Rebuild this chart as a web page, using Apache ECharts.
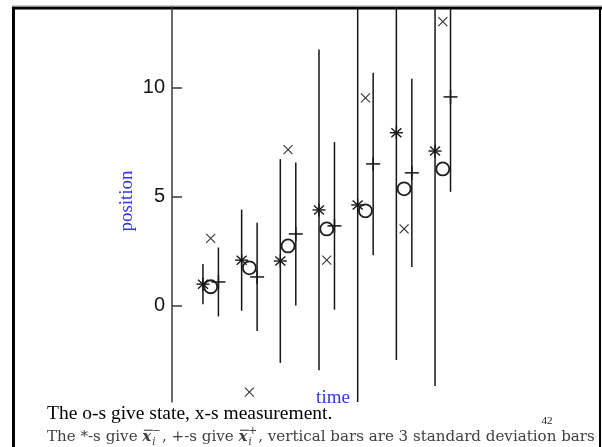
<!DOCTYPE html>
<html>
<head>
<meta charset="utf-8">
<script src="https://cdn.jsdelivr.net/npm/echarts@6/dist/echarts.min.js"></script>
<style>
  html, body { margin: 0; padding: 0; background: #ffffff; }
  #chart { width: 602px; height: 447px; }
</style>
</head>
<body>
<div id="chart"></div>
<script>
// Kalman filter run: seven time steps
const timeSteps = [1, 2, 3, 4, 5, 6, 7];
// predicted means (drawn as *) and their 3-sigma half widths
const predicted = [1.0, 2.1, 2.06, 4.4, 4.63, 7.94, 7.1];
const predicted3Sigma = [0.92, 2.32, 4.67, 7.35, 9.3, 10.42, 10.77];
// true state (o)
const trueState = [0.88, 1.75, 2.75, 3.53, 4.36, 5.37, 6.28];
// measurements (x)
const measured = [3.1, -3.95, 7.16, 2.1, 9.54, 3.53, 13.03];
// corrected means (+) and their 3-sigma half widths
const corrected = [1.1, 1.33, 3.3, 3.67, 6.51, 6.1, 9.58];
const corrected3Sigma = [1.58, 2.48, 3.28, 3.84, 4.18, 4.31, 4.35];
// y axis tick labels
const yTicks = [0, 5, 10];

const INK = '#161616';
const BLUE = '#3434e6';

// offsets of the marks within each time step
const OFF_STATE = 0.2;
const OFF_CORR = 0.4;

function barItem(params, api) {
  const x = api.value(0);
  const a = api.coord([x, api.value(1)]);
  const b = api.coord([x, api.value(2)]);
  return {
    type: 'line',
    shape: { x1: a[0], y1: a[1], x2: b[0], y2: b[1] },
    style: { stroke: INK, lineWidth: 1.5 }
  };
}

function seg(cx, cy, dx1, dy1, dx2, dy2, w, col) {
  return {
    type: 'line',
    shape: { x1: cx + dx1, y1: cy + dy1, x2: cx + dx2, y2: cy + dy2 },
    style: { stroke: col || INK, lineWidth: w || 1.4 }
  };
}

function starItem(params, api) {
  const p = api.coord([api.value(0), api.value(1)]);
  return {
    type: 'group',
    children: [
      seg(p[0], p[1], -6.5, 0, 6.5, 0),
      seg(p[0], p[1], 0, -6.5, 0, 6.5),
      seg(p[0], p[1], -5, -4.5, 5, 4.5),
      seg(p[0], p[1], -5, 4.5, 5, -4.5)
    ]
  };
}

function circleItem(params, api) {
  const p = api.coord([api.value(0), api.value(1)]);
  return {
    type: 'circle',
    shape: { cx: p[0], cy: p[1], r: 6.5 },
    style: { fill: 'none', stroke: '#1e1e1e', lineWidth: 1.8 }
  };
}

function crossItem(params, api) {
  const p = api.coord([api.value(0), api.value(1)]);
  return {
    type: 'group',
    children: [
      seg(p[0], p[1], -4.5, -4.5, 4.5, 4.5, 1.1, '#333'),
      seg(p[0], p[1], -4.5, 4.5, 4.5, -4.5, 1.1, '#333')
    ]
  };
}

function plusItem(params, api) {
  const p = api.coord([api.value(0), api.value(1)]);
  return {
    type: 'group',
    children: [
      seg(p[0], p[1], -7, 0, 7, 0, 1.5),
      seg(p[0], p[1], 0, -7, 0, 7, 1.5)
    ]
  };
}

const predBars = timeSteps.map((t, i) => [t, predicted[i] - predicted3Sigma[i], predicted[i] + predicted3Sigma[i]]);
const corrBars = timeSteps.map((t, i) => [t + OFF_CORR, corrected[i] - corrected3Sigma[i], corrected[i] + corrected3Sigma[i]]);
const starPts = timeSteps.map((t, i) => [t, predicted[i]]);
const statePts = timeSteps.map((t, i) => [t + OFF_STATE, trueState[i]]);
const measPts = timeSteps.map((t, i) => [t + OFF_STATE, measured[i]]);
const corrPts = timeSteps.map((t, i) => [t + OFF_CORR, corrected[i]]);

// caption line with x-bar symbols laid out piece by piece
const measureCtx = document.createElement('canvas').getContext('2d');
function textWidth(txt, font) { measureCtx.font = font; return measureCtx.measureText(txt).width; }

function layoutCaption(x0, y0, size, color) {
  const fam = '"DejaVu Serif"';
  const base = size + 'px ' + fam;
  const xbar = 'italic bold ' + size + 'px ' + fam;
  const subSize = (size * 0.68).toFixed(1);
  const small = subSize + 'px ' + fam;
  const smallIt = 'italic ' + subSize + 'px ' + fam;
  const pieces = [
    { t: 'The *-s give ' },
    { bar: true, sup: '\u2212' },
    { t: ', +-s give ' },
    { bar: true, sup: '+' },
    { t: ', vertical bars are 3 standard deviation bars' }
  ];
  const out = [];
  let x = x0;
  pieces.forEach(pc => {
    if (pc.t) {
      out.push({ type: 'text', x: x, y: y0, style: { text: pc.t, font: base, fill: color, textVerticalAlign: 'middle' } });
      x += textWidth(pc.t, base);
    } else {
      const wx = textWidth('x', xbar);
      out.push({ type: 'text', x: x, y: y0, style: { text: 'x', font: xbar, fill: color, textVerticalAlign: 'middle' } });
      out.push({ type: 'line', shape: { x1: x + 1.5, y1: y0 - size * 0.45, x2: x + wx + 1.5, y2: y0 - size * 0.45 }, style: { stroke: color, lineWidth: 1.1 } });
      const sx = x + wx + 1;
      out.push({ type: 'text', x: sx, y: y0 + size * 0.32, style: { text: 'i', font: smallIt, fill: color, textVerticalAlign: 'middle' } });
      out.push({ type: 'text', x: sx, y: y0 - size * 0.38, style: { text: pc.sup, font: small, fill: color, textVerticalAlign: 'middle' } });
      x = sx + Math.max(textWidth('i', smallIt), textWidth(pc.sup, small)) + 1;
    }
  });
  return { items: out, width: x - x0 };
}

// size the caption so that it spans the given width
function captionLine(x0, y0, targetWidth, color) {
  const trial = layoutCaption(x0, y0, 15, color);
  const size = 15 * targetWidth / trial.width;
  return layoutCaption(x0, y0, size, color).items;
}

const chart = echarts.init(document.getElementById('chart'), null, { renderer: 'canvas' });

const option = {
  animation: false,
  backgroundColor: '#ffffff',
  grid: { left: 172, top: 7, width: 294, height: 395, containLabel: false },
  xAxis: {
    type: 'value', min: 0.2, max: 7.8, show: false
  },
  yAxis: {
    type: 'value', min: -4.4, max: 13.7,
    axisLine: { show: true, lineStyle: { color: '#3a3a3a', width: 1.5 } },
    axisTick: { show: true, inside: true, length: 10, customValues: yTicks, lineStyle: { color: '#3a3a3a', width: 1.5 } },
    axisLabel: { show: true, customValues: yTicks, margin: 7, fontSize: 20, color: '#141414', fontFamily: 'Liberation Sans' },
    splitLine: { show: false }
  },
  graphic: [
    // slide frame
    { type: 'line', shape: { x1: 12, y1: 8, x2: 602, y2: 8 }, style: { stroke: '#000', lineWidth: 3 } },
    { type: 'line', shape: { x1: 12, y1: 6, x2: 602, y2: 6 }, style: { stroke: '#999', lineWidth: 1 } },
    { type: 'line', shape: { x1: 13.5, y1: 7, x2: 13.5, y2: 447 }, style: { stroke: '#000', lineWidth: 3 } },
    { type: 'line', shape: { x1: 600, y1: 7, x2: 600, y2: 447 }, style: { stroke: '#000', lineWidth: 2 } },
    // axis names
    { type: 'text', x: 127, y: 201, rotation: Math.PI / 2, style: { text: 'position', font: '19px "Liberation Serif"', fill: BLUE, textAlign: 'center', textVerticalAlign: 'middle' } },
    { type: 'text', x: 333, y: 398, style: { text: 'time', font: '19px "Liberation Serif"', fill: BLUE, textAlign: 'center', textVerticalAlign: 'middle' } },
    // captions
    { type: 'text', x: 47, y: 414, style: { text: 'The o-s give state, x-s measurement.', font: '19.5px "Liberation Serif"', fill: '#000', textVerticalAlign: 'middle' } },
    { type: 'text', x: 547, y: 421, style: { text: '42', font: '11px "Liberation Serif"', fill: '#222', textAlign: 'center', textVerticalAlign: 'middle' } },
    { type: 'group', children: captionLine(47, 437, 548, '#404040') }
  ],
  series: [
    { type: 'custom', name: 'predicted 3-sigma', renderItem: barItem, data: predBars, encode: { x: 0, y: [1, 2] }, clip: true, z: 2 },
    { type: 'custom', name: 'corrected 3-sigma', renderItem: barItem, data: corrBars, encode: { x: 0, y: [1, 2] }, clip: true, z: 2 },
    { type: 'custom', name: 'predicted', renderItem: starItem, data: starPts, encode: { x: 0, y: 1 }, clip: true, z: 3 },
    { type: 'custom', name: 'state', renderItem: circleItem, data: statePts, encode: { x: 0, y: 1 }, clip: true, z: 3 },
    { type: 'custom', name: 'measurement', renderItem: crossItem, data: measPts, encode: { x: 0, y: 1 }, clip: true, z: 3 },
    { type: 'custom', name: 'corrected', renderItem: plusItem, data: corrPts, encode: { x: 0, y: 1 }, clip: true, z: 3 }
  ]
};

chart.setOption(option);
</script>
</body>
</html>
